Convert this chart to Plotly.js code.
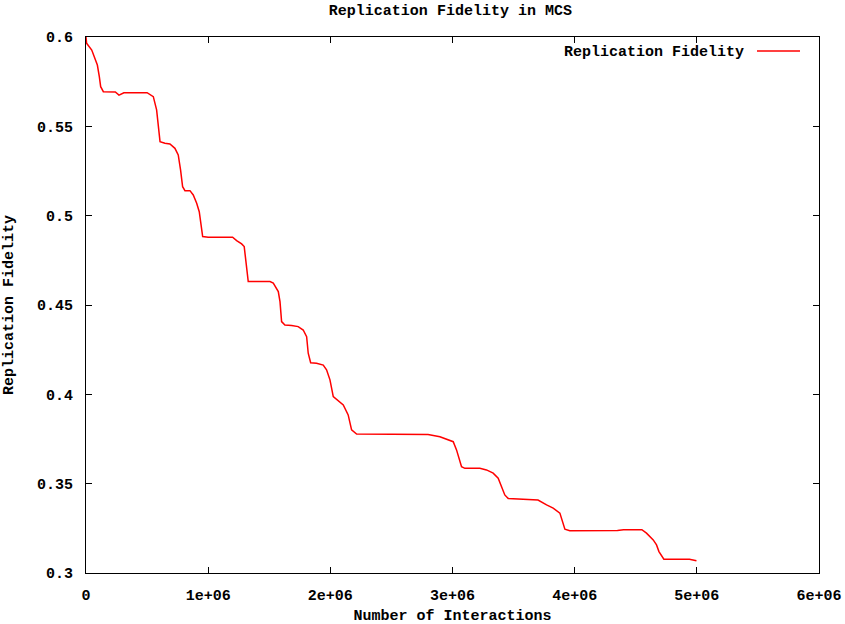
<!DOCTYPE html>
<html>
<head>
<meta charset="utf-8">
<script src="https://cdn.plot.ly/plotly-3.0.1.min.js"></script>
<style>html,body{margin:0;padding:0;background:#fff;}#chart{width:845px;height:624px;}</style>
</head>
<body>
<div id="chart"></div>
<script>
// Number of interactions
const interactions = [
  0, 5000, 47000, 74000, 93000, 109000, 120000, 142000, 240000, 270000, 310000, 500000, 520000, 551000,
  578000, 592000, 606000, 646000, 687000, 728000, 755000, 774000, 791000, 810000, 851000, 878000,
  906000, 927000, 941000, 955000, 1000000, 1200000, 1233000, 1274000, 1295000, 1309000, 1320000,
  1328000, 1506000, 1533000, 1574000, 1588000, 1601000, 1628000, 1683000, 1737000, 1778000, 1806000,
  1819000, 1839000, 1887000, 1942000, 1969000, 1997000, 2024000, 2065000, 2106000, 2146000, 2174000,
  2215000, 2500000, 2800000, 2897000, 2960000, 3006000, 3033000, 3055000, 3074000, 3101000, 3224000,
  3278000, 3333000, 3374000, 3401000, 3428000, 3456000, 3600000, 3700000, 3770000, 3824000, 3879000,
  3900000, 3920000, 3960000, 4200000, 4350000, 4400000, 4550000, 4588000, 4643000, 4670000, 4690000,
  4730000, 4940000, 4997000
];
// Replication fidelity
const fidelity = [
  0.6, 0.5965, 0.5927, 0.5871, 0.5843, 0.5778, 0.5722, 0.5694, 0.5692, 0.5675, 0.5688, 0.5688, 0.568, 0.5666,
  0.5592, 0.5498, 0.5414, 0.5405, 0.5401, 0.5377, 0.534, 0.5256, 0.5162, 0.514, 0.514, 0.5116,
  0.5069, 0.5022, 0.4948, 0.4883, 0.4879, 0.4879, 0.486, 0.4842, 0.4827, 0.4752, 0.4678,
  0.4631, 0.4631, 0.4622, 0.4575, 0.4519, 0.4407, 0.4388, 0.4385, 0.4379, 0.436, 0.4323,
  0.423, 0.4177, 0.4174, 0.4164, 0.4137, 0.4081, 0.3987, 0.3965, 0.3941, 0.3885, 0.3801,
  0.3778, 0.3778, 0.3775, 0.3763, 0.3745, 0.3735, 0.3689, 0.3633, 0.3595, 0.3586, 0.3586,
  0.3577, 0.3559, 0.3531, 0.3484, 0.3437, 0.3417, 0.3413, 0.3408, 0.3381, 0.3363, 0.3335,
  0.3288, 0.3245, 0.3237, 0.3236, 0.3238, 0.3242, 0.3242, 0.3223, 0.3185, 0.3157, 0.312,
  0.3077, 0.3077, 0.3068
];
const xTickVals = [0, 1000000, 2000000, 3000000, 4000000, 5000000, 6000000];
const xTickText = ['0', '1e+06', '2e+06', '3e+06', '4e+06', '5e+06', '6e+06'];
const yTickVals = [0.3, 0.35, 0.4, 0.45, 0.5, 0.55, 0.6];
const yTickText = ['0.3', '0.35', '0.4', '0.45', '0.5', '0.55', '0.6'];
const seriesName = 'Replication Fidelity';
const lineColor = '#ff0000';

const font = {family: '"Liberation Mono", "DejaVu Sans Mono", monospace', size: 15, color: '#000', weight: 'bold'};

const trace = {
  x: interactions, y: fidelity, type: 'scatter', mode: 'lines',
  name: seriesName, line: {color: lineColor, width: 1.5}, showlegend: false
};

const axisCommon = {
  showgrid: false, zeroline: false, showline: true, linecolor: '#000', linewidth: 1,
  mirror: 'allticks', ticks: 'inside', ticklen: 6, tickcolor: '#000', tickwidth: 1,
  tickfont: font, automargin: false
};

const layout = {
  width: 845, height: 624,
  margin: {l: 86, r: 26, t: 37, b: 51},
  paper_bgcolor: '#fff', plot_bgcolor: '#fff',
  font: font,
  title: {text: 'Replication Fidelity in MCS', font: font, x: 0.533, xanchor: 'center', y: 1 - 10/624, yanchor: 'middle', yref: 'container'},
  xaxis: Object.assign({}, axisCommon, {
    range: [0, 6000000], tickmode: 'array', tickvals: xTickVals, ticktext: xTickText,
    ticklabelstandoff: 8,
    title: {text: 'Number of Interactions', font: font, standoff: 11}
  }),
  yaxis: Object.assign({}, axisCommon, {
    range: [0.3, 0.6], tickmode: 'array', tickvals: yTickVals, ticktext: yTickText,
    ticklabelstandoff: 9,
    title: {text: 'Replication Fidelity', font: font, standoff: 19}
  }),
  annotations: [{
    text: seriesName, xref: 'paper', yref: 'paper', x: (746 - 86) / 733, y: (573 - 52) / 536,
    xanchor: 'right', yanchor: 'middle', showarrow: false, font: font
  }],
  shapes: [{
    type: 'line', xref: 'paper', yref: 'paper',
    x0: (757 - 86) / 733, x1: (800 - 86) / 733, y0: (573 - 51) / 536, y1: (573 - 51) / 536,
    line: {color: lineColor, width: 1.5}
  }]
};

Plotly.newPlot('chart', [trace], layout, {displayModeBar: false, staticPlot: true}).then(function (gd) {
  // nudge the x-axis title down slightly to match the reference spacing
  const t = gd.querySelector('.g-xtitle text');
  if (t) t.setAttribute('transform', 'translate(0,1)');
});
</script>
</body>
</html>
